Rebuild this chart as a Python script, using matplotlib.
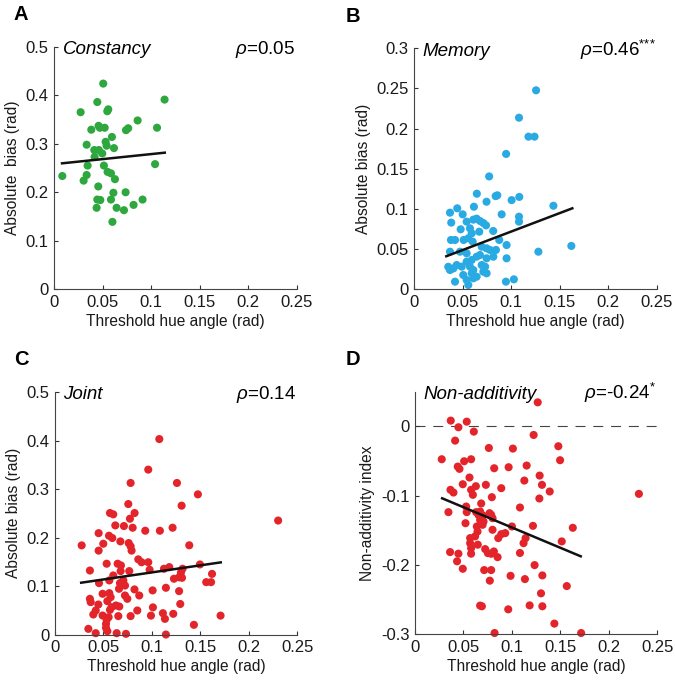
import numpy as np
import matplotlib
matplotlib.use('Agg')
from matplotlib import pyplot as plt
from matplotlib.ticker import FormatStrFormatter

plt.rcParams['font.family'] = ['Liberation Sans', 'DejaVu Sans']
plt.rcParams['mathtext.fontset'] = 'custom'
plt.rcParams['mathtext.rm'] = 'Liberation Sans'
plt.rcParams['mathtext.it'] = 'Liberation Sans:italic'

# --- data (threshold, bias) ---
constancy_pts = [
    (0.0083, 0.2335), (0.0272, 0.365), (0.0303, 0.224), (0.0334, 0.2356), (0.0334, 0.298),
    (0.0344, 0.255), (0.0382, 0.329), (0.0413, 0.287), (0.0416, 0.273), (0.0444, 0.386),
    (0.0454, 0.212), (0.0457, 0.337), (0.0444, 0.185), (0.0437, 0.168), (0.0475, 0.184),
    (0.047, 0.333), (0.046, 0.287), (0.0505, 0.424), (0.0512, 0.255), (0.052, 0.333),
    (0.053, 0.304), (0.054, 0.296), (0.0547, 0.367), (0.0557, 0.371), (0.055, 0.242),
    (0.0585, 0.239), (0.0595, 0.314), (0.0616, 0.291), (0.0626, 0.227), (0.061, 0.199),
    (0.0585, 0.185), (0.060, 0.139), (0.0643, 0.168), (0.0719, 0.163), (0.0736, 0.200),
    (0.074, 0.328), (0.0763, 0.332), (0.0818, 0.174), (0.086, 0.348), (0.0911, 0.185),
    (0.104, 0.258), (0.106, 0.333), (0.1138, 0.391), (0.0495, 0.280),
]
memory_pts = [
    (0.1256, 0.2477), (0.108, 0.2136), (0.1178, 0.19), (0.124, 0.19), (0.0947, 0.1685),
    (0.0772, 0.1405), (0.0645, 0.119), (0.0745, 0.109), (0.0839, 0.116), (0.0856, 0.117),
    (0.1083, 0.115), (0.1004, 0.111), (0.1435, 0.104), (0.162, 0.054), (0.128, 0.0468),
    (0.0901, 0.0933), (0.108, 0.0904), (0.108, 0.0842), (0.0443, 0.1008), (0.0368, 0.0954),
    (0.0615, 0.1028), (0.0499, 0.0933), (0.0381, 0.083), (0.054, 0.0842), (0.0609, 0.0867),
    (0.0643, 0.0879), (0.0678, 0.085), (0.0712, 0.0825), (0.074, 0.0796), (0.0478, 0.0747),
    (0.0574, 0.0759), (0.0592, 0.0697), (0.0814, 0.0726), (0.067, 0.0717), (0.0378, 0.0614),
    (0.042, 0.0614), (0.0509, 0.0614), (0.0557, 0.0635), (0.0602, 0.0593), (0.0876, 0.0614),
    (0.0952, 0.0551), (0.0368, 0.0468), (0.0695, 0.053), (0.0746, 0.051), (0.078, 0.049),
    (0.0842, 0.049), (0.0471, 0.0468), (0.054, 0.0448), (0.0592, 0.0365), (0.0643, 0.0406),
    (0.0677, 0.0427), (0.0952, 0.0386), (0.0746, 0.0386), (0.0815, 0.0406), (0.035, 0.028),
    (0.0403, 0.026), (0.0368, 0.024), (0.0437, 0.0302), (0.0489, 0.0282), (0.054, 0.0344),
    (0.0574, 0.0282), (0.0609, 0.024), (0.0695, 0.0302), (0.073, 0.0282), (0.0505, 0.0178),
    (0.0592, 0.0199), (0.0643, 0.0157), (0.0712, 0.0219), (0.0746, 0.0199), (0.042, 0.0095),
    (0.054, 0.0116), (0.0609, 0.0137), (0.0557, 0.0054), (0.0945, 0.0095), (0.1027, 0.0124),
]
joint_pts = [
    (0.1076, 0.403), (0.0962, 0.340), (0.078, 0.3125), (0.1258, 0.3125), (0.1474, 0.289),
    (0.0756, 0.269), (0.0567, 0.2505), (0.0601, 0.2478), (0.0821, 0.2505), (0.1306, 0.2657),
    (0.0773, 0.2388), (0.0622, 0.225), (0.0711, 0.2237), (0.0801, 0.2202), (0.0931, 0.214),
    (0.1082, 0.214), (0.1213, 0.2202), (0.045, 0.209), (0.0557, 0.2037), (0.0591, 0.199),
    (0.0275, 0.1838), (0.0498, 0.1872), (0.0674, 0.192), (0.045, 0.173), (0.076, 0.1886),
    (0.078, 0.182), (0.079, 0.173), (0.1385, 0.184), (0.0859, 0.155), (0.0893, 0.149),
    (0.0962, 0.149), (0.0533, 0.146), (0.0646, 0.146), (0.068, 0.1425), (0.036, 0.132),
    (0.0976, 0.1335), (0.1124, 0.1356), (0.1179, 0.139), (0.1299, 0.128), (0.1316, 0.1356),
    (0.1495, 0.1445), (0.162, 0.125), (0.0601, 0.1218), (0.0677, 0.1308), (0.0766, 0.1308),
    (0.056, 0.1115), (0.0705, 0.1115), (0.0722, 0.101), (0.066, 0.0943), (0.067, 0.106),
    (0.0454, 0.106), (0.1227, 0.115), (0.128, 0.118), (0.131, 0.117), (0.156, 0.108),
    (0.161, 0.108), (0.1144, 0.0964), (0.128, 0.0895), (0.082, 0.093), (0.0491, 0.084),
    (0.056, 0.0853), (0.0574, 0.077), (0.054, 0.0688), (0.0722, 0.0805), (0.0746, 0.0736),
    (0.0869, 0.0805), (0.036, 0.0736), (0.0368, 0.0668), (0.0447, 0.0619), (0.042, 0.0495),
    (0.0395, 0.0413), (0.0567, 0.0509), (0.0584, 0.0564), (0.0629, 0.0599), (0.0663, 0.0578),
    (0.0849, 0.0496), (0.1007, 0.091), (0.101, 0.056), (0.1292, 0.063), (0.0491, 0.0392),
    (0.0653, 0.038), (0.078, 0.038), (0.099, 0.039), (0.1113, 0.044), (0.1134, 0.0323),
    (0.122, 0.0427), (0.1708, 0.039), (0.1433, 0.02), (0.0344, 0.0117), (0.042, 0.0028),
    (0.0526, 0.022), (0.0526, 0.0138), (0.054, 0.0069), (0.0636, 0.0028), (0.0732, 0.0014),
    (0.1144, 0.0), (0.0533, 0.0303), (0.0553, 0.0358), (0.2302, 0.235),
]
nonadd_pts = [
    (0.1266, 0.0346), (0.0369, 0.0082), (0.0534, 0.0067), (0.0448, -0.0014), (0.0607, -0.0077),
    (0.1224, -0.0125), (0.0414, -0.0207), (0.1479, -0.0288), (0.0762, -0.0313), (0.101, -0.0322),
    (0.0276, -0.0476), (0.0507, -0.0505), (0.0579, -0.0476), (0.1497, -0.049), (0.1152, -0.0567),
    (0.0441, -0.0582), (0.0459, -0.0615), (0.0817, -0.0606), (0.0966, -0.0591), (0.0562, -0.074),
    (0.1286, -0.0712), (0.1128, -0.0784), (0.0493, -0.0837), (0.0628, -0.0865), (0.0731, -0.0846),
    (0.131, -0.0846), (0.089, -0.0894), (0.0366, -0.0918), (0.0397, -0.0957), (0.0579, -0.0918),
    (0.0597, -0.099), (0.139, -0.0942), (0.0793, -0.1024), (0.1283, -0.1043), (0.231, -0.0976),
    (0.0683, -0.1115), (0.0345, -0.124), (0.0528, -0.1159), (0.0534, -0.124), (0.0631, -0.124),
    (0.0655, -0.1279), (0.07, -0.1288), (0.0672, -0.1231), (0.0769, -0.1255), (0.0786, -0.1279),
    (0.08, -0.1327), (0.1083, -0.1173), (0.0521, -0.14), (0.0638, -0.1447), (0.0679, -0.1399),
    (0.0707, -0.1375), (0.0697, -0.1423), (0.0672, -0.1351), (0.08, -0.1495), (0.1, -0.1447),
    (0.1217, -0.1438), (0.1628, -0.1466), (0.0645, -0.152), (0.062, -0.159), (0.0569, -0.1615),
    (0.0859, -0.1615), (0.089, -0.1558), (0.0931, -0.1543), (0.1141, -0.1615), (0.112, -0.1688),
    (0.1514, -0.1663), (0.0648, -0.171), (0.0569, -0.1688), (0.0579, -0.176), (0.0362, -0.1817),
    (0.0448, -0.184), (0.0434, -0.195), (0.0579, -0.184), (0.0724, -0.1774), (0.0752, -0.1832),
    (0.0786, -0.1841), (0.0814, -0.1808), (0.0852, -0.189), (0.1083, -0.183), (0.1234, -0.2005),
    (0.0493, -0.2058), (0.0714, -0.2077), (0.0786, -0.2077), (0.0772, -0.223), (0.0986, -0.216),
    (0.1134, -0.2207), (0.1314, -0.2154), (0.1566, -0.2308), (0.13, -0.2413), (0.0672, -0.259),
    (0.069, -0.26), (0.0962, -0.2644), (0.1183, -0.2587), (0.1314, -0.26), (0.1438, -0.285),
    (0.0821, -0.2986), (0.1714, -0.2986),
]

# regression lines: slope, intercept, x from, x to
fit_constancy = (0.207, 0.258, 0.008, 0.114)
fit_memory = (0.459, 0.026, 0.033, 0.163)
fit_joint = (0.291, 0.099, 0.027, 0.171)
fit_nonadd = (-0.586, -0.0876, 0.028, 0.171)

x_ticks = [0, 0.05, 0.1, 0.15, 0.2, 0.25]
bias_ticks = [0, 0.1, 0.2, 0.3, 0.4, 0.5]
memory_ticks = [0, 0.05, 0.1, 0.15, 0.2, 0.25, 0.3]
nonadd_ticks = [-0.3, -0.2, -0.1, 0]

green = '#2ea73f'
blue = '#2aaae2'
red = '#e3252b'


def drawPanel(rect, pts, fit, color, name, rho, ylabel, ylim, yticks, letter, letter_x):
    ax = fig.add_axes(rect)
    pts = np.array(pts)
    ax.scatter(pts[:, 0], pts[:, 1], s=34, color=color, edgecolors='none', clip_on=False, zorder=2)
    slope, icpt, x0, x1 = fit
    xs = np.array([x0, x1])
    ax.plot(xs, slope * xs + icpt, color='#111111', lw=1.8, zorder=3)

    ax.set_xlim(0, 0.25)
    ax.set_ylim(*ylim)
    ax.set_xticks(x_ticks)
    ax.set_yticks(yticks)
    ax.xaxis.set_major_formatter(FormatStrFormatter('%g'))
    ax.yaxis.set_major_formatter(FormatStrFormatter('%g'))
    ax.tick_params(direction='in', length=3, width=0.8, labelsize=12, colors='#333333',
                   labelcolor='#1a1a1a', pad=4)
    for s in ['top', 'right']:
        ax.spines[s].set_visible(False)
    for s in ['left', 'bottom']:
        ax.spines[s].set_color('#444444')
        ax.spines[s].set_linewidth(0.8)

    ax.set_xlabel('Threshold hue angle (rad)', fontsize=11.2, color='#1a1a1a', labelpad=3)
    ax.set_ylabel(ylabel, fontsize=11.2, color='#1a1a1a', labelpad=4)

    ax.text(0.035, 0.97, name, transform=ax.transAxes, style='italic', fontsize=13.5, va='baseline')
    ax.text(0.995, 0.97, rho, transform=ax.transAxes, fontsize=13.5, va='baseline', ha='right')
    fig.text(letter_x, rect[1] + rect[3] + 0.047, letter, fontsize=14.5, fontweight='bold',
             va='center', ha='center')
    return ax


fig = plt.figure(figsize=(6.75, 6.82), dpi=100)

drawPanel([0.0804, 0.5758, 0.359, 0.3557], constancy_pts, fit_constancy, green, 'Constancy',
          r'$\rho$=0.05', 'Absolute  bias (rad)', (0, 0.5), bias_ticks, 'A', 0.031)
drawPanel([0.6138, 0.5758, 0.359, 0.3534], memory_pts, fit_memory, blue, 'Memory',
          r'$\rho$=0.46$^{{*}{*}{*}}$', 'Absolute bias (rad)', (0, 0.3), memory_ticks, 'B', 0.523)
drawPanel([0.0815, 0.0696, 0.359, 0.3556], joint_pts, fit_joint, red, 'Joint',
          r'$\rho$=0.14', 'Absolute bias (rad)', (0, 0.5), bias_ticks, 'C', 0.031)
axD = drawPanel([0.6148, 0.0704, 0.359, 0.3553], nonadd_pts, fit_nonadd, red, 'Non-additivity',
                r'$\rho$=-0.24$^{*}$', 'Non-additivity index', (-0.3, 0.05), nonadd_ticks, 'D', 0.523)
axD.axhline(0, color='#444444', lw=0.8, ls=(0, (9, 7)), zorder=1)

plt.savefig('out.png', dpi=100)
